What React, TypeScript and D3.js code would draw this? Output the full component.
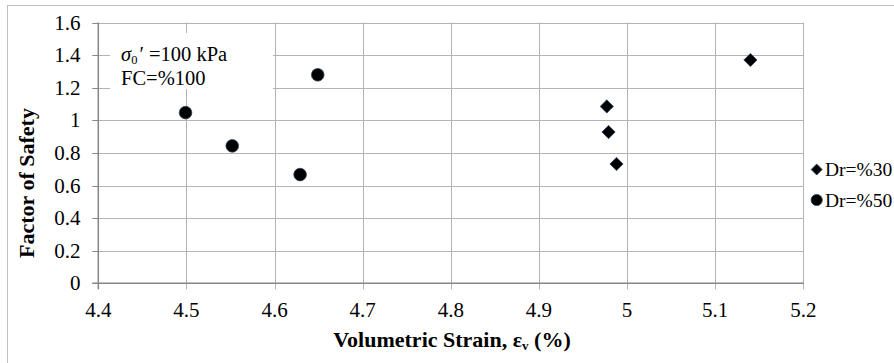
import React from "react";
import * as d3 from "d3";

const dr30X = [4.977, 4.979, 4.988, 5.14];
const dr30Y = [1.085, 0.928, 0.732, 1.37];
const dr50X = [4.499, 4.552, 4.629, 4.649];
const dr50Y = [1.047, 0.843, 0.667, 1.279];
const xTicks = [4.4, 4.5, 4.6, 4.7, 4.8, 4.9, 5, 5.1, 5.2];
const yTicks = [0, 0.2, 0.4, 0.6, 0.8, 1, 1.2, 1.4, 1.6];
const seriesNames = ["Dr=%30", "Dr=%50"];

const W = 894;
const H = 363;
const L = 98.3, R = 803.3, T = 22.5, B = 283.3;
const FONT = "'Liberation Serif', 'Times New Roman', serif";

export default function App() {
  const x = d3.scaleLinear().domain([4.4, 5.2]).range([L, R]);
  const y = d3.scaleLinear().domain([0, 1.6]).range([B, T]);
  const diamond = (cx: number, cy: number, r: number) =>
    `M${cx},${cy - r}L${cx + r},${cy}L${cx},${cy + r}L${cx - r},${cy}Z`;
  const grid = "#b3b3b3";
  const axis = "#868686";
  const mFill = "#000000";
  const mStroke = "#243f60";
  const fmt = (t: number) => String(+t.toFixed(1));
  return (
    <div style={{ position: "absolute", left: 0, top: 0, margin: 0 }}>
      <svg width={W} height={H} style={{ display: "block" }} fontFamily={FONT}>
        <rect x={0} y={0} width={W} height={H} fill="#fff" />
        <rect x={7.5} y={5.5} width={W + 20} height={H + 20} fill="#fff" stroke="#bfbfbf" strokeWidth={1} />
        {/* gridlines */}
        {yTicks.filter((t) => t > 0).map((t) => (
          <line key={"gy" + t} x1={L} x2={R} y1={Math.round(y(t)) + 0.5} y2={Math.round(y(t)) + 0.5} stroke={grid} strokeWidth={1} />
        ))}
        {xTicks.filter((t) => t > 4.4).map((t) => (
          <line key={"gx" + t} x1={Math.round(x(t)) + 0.5} x2={Math.round(x(t)) + 0.5} y1={T} y2={B + 6} stroke={grid} strokeWidth={1} />
        ))}
        {/* y axis ticks */}
        {yTicks.map((t) => (
          <line key={"ty" + t} x1={L - 6} x2={L} y1={Math.round(y(t)) + 0.5} y2={Math.round(y(t)) + 0.5} stroke={axis} strokeWidth={1} />
        ))}
        <line x1={L} x2={L} y1={T} y2={B + 6} stroke={axis} strokeWidth={1.5} />
        <line x1={L - 6} x2={R + 0.5} y1={B} y2={B} stroke={axis} strokeWidth={1.5} />
        {/* annotation box */}
        <rect x={110} y={33} width={163} height={56} fill="#fff" />
        <text x={121} y={60.5} fontSize={20.5} fill="#000">
          <tspan fontStyle="italic">σ</tspan>
          <tspan fontSize={12.5} dy={3}>0</tspan>
          <tspan dy={-3} dx={2}>′ =100 kPa</tspan>
        </text>
        <text x={121} y={85} fontSize={20.5} fill="#000">FC=%100</text>
        {/* tick labels */}
        {yTicks.map((t) => (
          <text key={"ly" + t} x={80.5} y={y(t) + 7} fontSize={21} textAnchor="end" fill="#000">
            {fmt(t)}
          </text>
        ))}
        {xTicks.map((t) => (
          <text key={"lx" + t} x={x(t)} y={316.5} fontSize={21} textAnchor="middle" fill="#000">
            {fmt(t)}
          </text>
        ))}
        {/* axis titles */}
        <text x={452} y={347} fontSize={22} fontWeight="bold" textAnchor="middle" fill="#000">
          Volumetric Strain, ε<tspan fontSize={13} dy={3}>v</tspan>
          <tspan dy={-3}> (%)</tspan>
        </text>
        <text transform={`translate(34,183) rotate(-90)`} fontSize={22} fontWeight="bold" textAnchor="middle" fill="#000">
          Factor of Safety
        </text>
        {/* markers */}
        {dr50X.map((v, i) => (
          <circle key={"c" + i} cx={x(v)} cy={y(dr50Y[i])} r={6.3} fill={mFill} stroke={mStroke} strokeWidth={0.8} />
        ))}
        {dr30X.map((v, i) => (
          <path key={"d" + i} d={diamond(x(v), y(dr30Y[i]), 6.6)} fill={mFill} stroke={mStroke} strokeWidth={0.8} />
        ))}
        {/* legend */}
        <path d={diamond(816.7, 169.5, 5.5)} fill={mFill} stroke={mStroke} strokeWidth={0.8} />
        <text x={825} y={176} fontSize={19.5} fill="#000">{seriesNames[0]}</text>
        <circle cx={816.7} cy={200} r={5.6} fill={mFill} stroke={mStroke} strokeWidth={0.8} />
        <text x={825} y={206.5} fontSize={19.5} fill="#000">{seriesNames[1]}</text>
      </svg>
    </div>
  );
}
